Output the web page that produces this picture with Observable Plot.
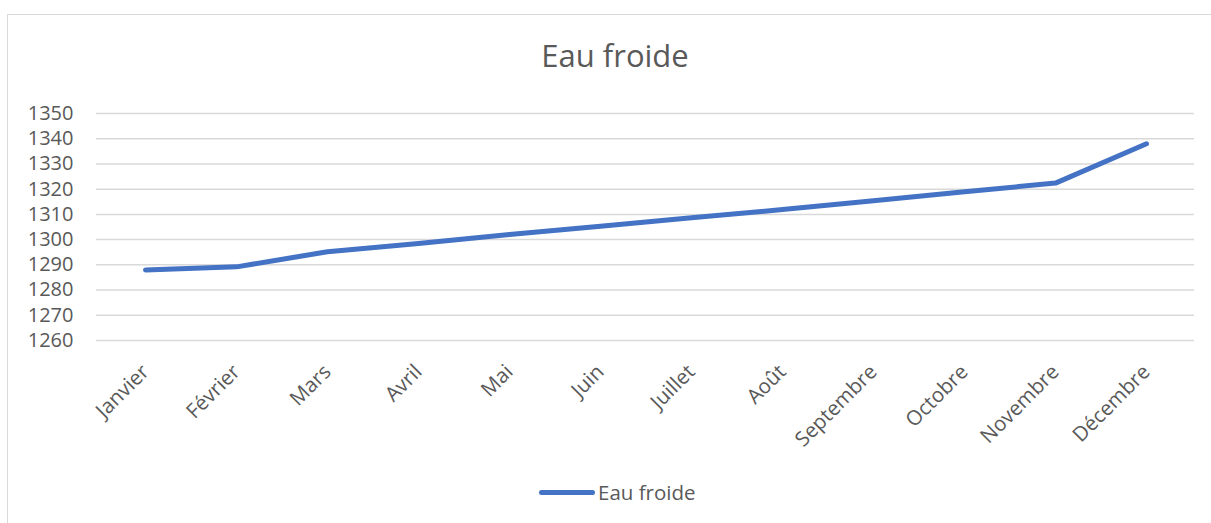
<!DOCTYPE html>
<html>
<head>
<meta charset="utf-8">
<script src="https://cdn.jsdelivr.net/npm/d3@7"></script>
<script src="https://cdn.jsdelivr.net/npm/@observablehq/plot@0.6"></script>
<style>
  html, body { margin: 0; padding: 0; background: #fff; }
  #wrap { position: relative; width: 1211px; height: 523px; overflow: hidden; font-family: "Open Sans", sans-serif; color: #595959; }
  #frame { position: absolute; left: 7px; top: 14px; width: 1240px; height: 560px; border: 1.5px solid #d9d9d9; box-sizing: border-box; }
  #title { position: absolute; left: 0; width: 1230px; top: 34px; text-align: center; font-size: 31px; line-height: 42px; }
  #legend { position: absolute; left: 539px; top: 479px; display: flex; align-items: center; font-size: 20.5px; line-height: 26px; }
  #legend .swatch { width: 56px; height: 5px; background: #4472C4; border-radius: 3px; margin-right: 3px; }
  #chart { position: absolute; left: 0; top: 0; }
</style>
</head>
<body>
<div id="wrap">
  <div id="frame"></div>
  <div id="chart"></div>
  <div id="title">Eau froide</div>
  <div id="legend"><div class="swatch"></div><span>Eau froide</span></div>
</div>
<script>
const months = ["Janvier", "Février", "Mars", "Avril", "Mai", "Juin", "Juillet", "Août", "Septembre", "Octobre", "Novembre", "Décembre"];
const eauFroide = [1288, 1289.2, 1295.2, 1298.5, 1302, 1305.3, 1308.7, 1311.9, 1315.4, 1319, 1322.4, 1338];
const yTicks = [1260, 1270, 1280, 1290, 1300, 1310, 1320, 1330, 1340, 1350];
const seriesName = "Eau froide";

const data = months.map((m, i) => ({month: m, value: eauFroide[i]}));

const plot = Plot.plot({
  width: 1211,
  height: 523,
  marginLeft: 96,
  marginRight: 17,
  marginTop: 113,
  marginBottom: 183,
  style: {fontFamily: "'Open Sans', sans-serif", fontSize: "20px", color: "#595959", background: "transparent"},
  x: {type: "point", domain: months, padding: 0.5, label: null},
  y: {domain: [1260, 1350], label: null},
  marks: [
    Plot.ruleY(yTicks, {stroke: "#d9d9d9", strokeWidth: 1.5}),
    Plot.axisY(yTicks, {tickSize: 0, tickPadding: 23, tickFormat: d => String(d), fill: "#595959", fontSize: 20, label: null}),
    Plot.axisX({tickSize: 0, tickRotate: -45, tickPadding: 28, fill: "#595959", fontSize: 20.5, label: null}),
    Plot.line(data, {x: "month", y: "value", stroke: "#4472C4", strokeWidth: 5, strokeLinecap: "round", strokeLinejoin: "round"})
  ]
});
document.getElementById("chart").appendChild(plot);
</script>
</body>
</html>
